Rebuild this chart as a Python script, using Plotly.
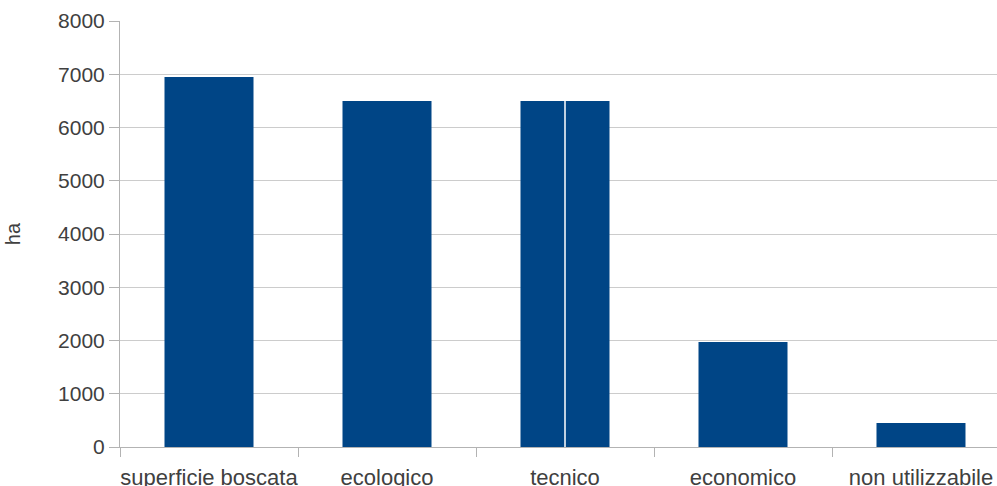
import plotly.graph_objects as go

categories = ["superficie boscata", "ecologico", "tecnico", "economico", "non utilizzabile"]
values = [6950, 6500, 6500, 1970, 450]
y_ticks = [0, 1000, 2000, 3000, 4000, 5000, 6000, 7000, 8000]

BAR = "#004586"
TXT = "#404040"
FONT = "Liberation Sans, Arial, sans-serif"

fig = go.Figure()
fig.add_trace(go.Bar(x=categories, y=values, marker_color=BAR, width=0.5,
                     marker_line_width=0, showlegend=False))

# thin white split visible on the "tecnico" bar
split_idx = categories.index("tecnico")
fig.add_shape(type="line", xref="x", yref="y", x0=split_idx, x1=split_idx,
              y0=0, y1=values[split_idx], line=dict(color="white", width=1.5))

fig.update_layout(
    width=997, height=486,
    margin=dict(l=120, r=0, t=21, b=39, autoexpand=False),
    paper_bgcolor="white", plot_bgcolor="white",
    font=dict(family=FONT, size=20, color=TXT),
    bargap=0.5,
)
fig.update_xaxes(
    range=[-0.5, 4.427], tickson="boundaries", ticks="outside", ticklen=9,
    tickcolor="#b3b3b3", showline=True, linecolor="#b3b3b3", linewidth=1,
    showgrid=False, tickfont=dict(size=22, color=TXT), tickangle=0,
    automargin=False, ticklabelstandoff=11,
)
fig.update_yaxes(
    range=[0, 8000], tickvals=y_ticks, ticks="outside", ticklen=10,
    tickcolor="#b3b3b3", showline=True, linecolor="#b3b3b3", linewidth=1,
    gridcolor="#cccccc", gridwidth=1, zeroline=False, automargin=False,
    tickfont=dict(size=21, color=TXT),
    title=dict(text="ha", font=dict(size=20, color=TXT), standoff=32),
)

fig.write_html("out.html")
